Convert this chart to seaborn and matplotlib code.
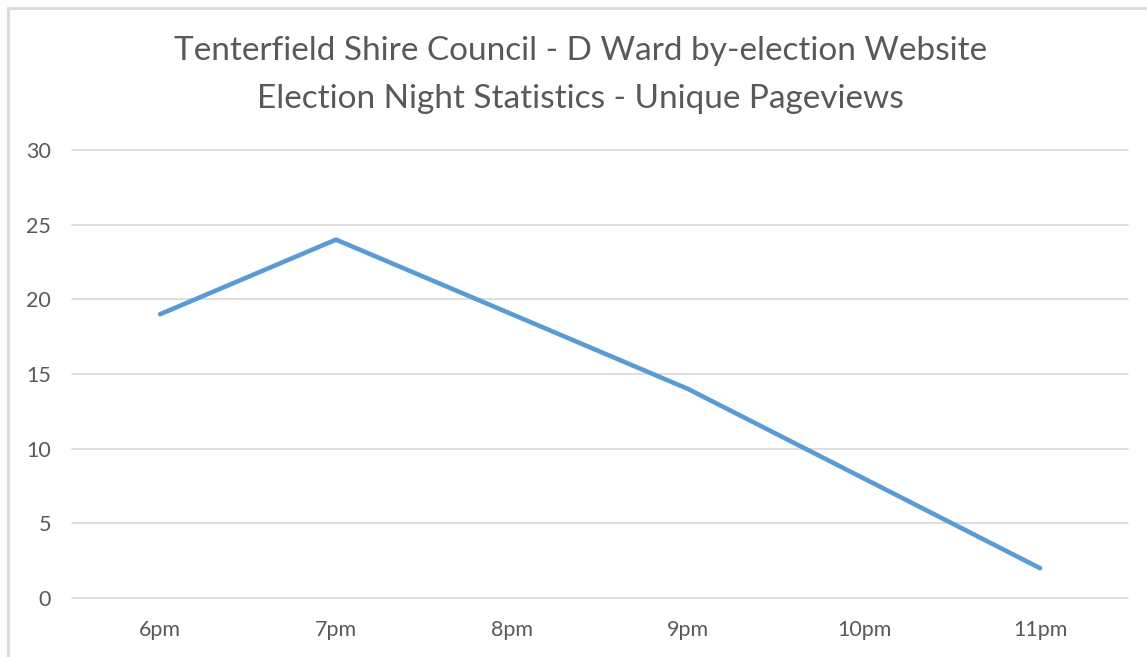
import matplotlib
matplotlib.use("Agg")
import matplotlib.pyplot as plt
import seaborn as sns
import pandas as pd
from matplotlib.patches import Rectangle

# datos
hours = ["6pm", "7pm", "8pm", "9pm", "10pm", "11pm"]
pageviews = [19, 24, 19, 14, 8, 2]
yticks = [0, 5, 10, 15, 20, 25, 30]

TITLE = ("Tenterfield Shire Council - D Ward by-election Website\n"
         "Election Night Statistics - Unique Pageviews")
TXT = "#595959"
GRID = "#d9d9d9"
BLUE = "#5b9bd5"

sns.set_theme(style="white")
plt.rcParams["font.family"] = ["Lato", "DejaVu Sans"]

df = pd.DataFrame({"hour": hours, "views": pageviews})
df["pos"] = range(len(hours))

W, H = 1147, 657
fig = plt.figure(figsize=(W / 100, H / 100), dpi=100)
ax = fig.add_axes([72 / W, 1 - 598 / H, (1128 - 72) / W, (598 - 150) / H])

sns.lineplot(data=df, x="pos", y="views", ax=ax, color=BLUE, linewidth=3.3,
             solid_capstyle="round", solid_joinstyle="round")

ax.set_xlim(-0.5, len(hours) - 0.5)
ax.set_ylim(0, 30)
ax.set_xticks(df["pos"])
ax.set_xticklabels(hours)
ax.set_yticks(yticks)
ax.set_xlabel("")
ax.set_ylabel("")
ax.grid(axis="y", color=GRID, linewidth=1.2)
ax.set_axisbelow(True)
for gl in ax.get_ygridlines():
    gl.set_clip_on(False)
for s in ax.spines.values():
    s.set_visible(False)
ax.tick_params(axis="y", length=0, pad=15, labelsize=15.5, labelcolor=TXT)
ax.tick_params(axis="x", length=0, pad=16, labelsize=15.5, labelcolor=TXT)

fig.text(0.506, 1 - 75 / H, TITLE, ha="center", va="center", fontsize=24,
         color=TXT, linespacing=1.75)

# marco del grafico
fig.patches.append(Rectangle((8 / W, -0.05), 1.1, 1 - 8 / H + 0.05,
                             transform=fig.transFigure, fill=False,
                             edgecolor=GRID, linewidth=2))

fig.savefig("out.png", dpi=100)
